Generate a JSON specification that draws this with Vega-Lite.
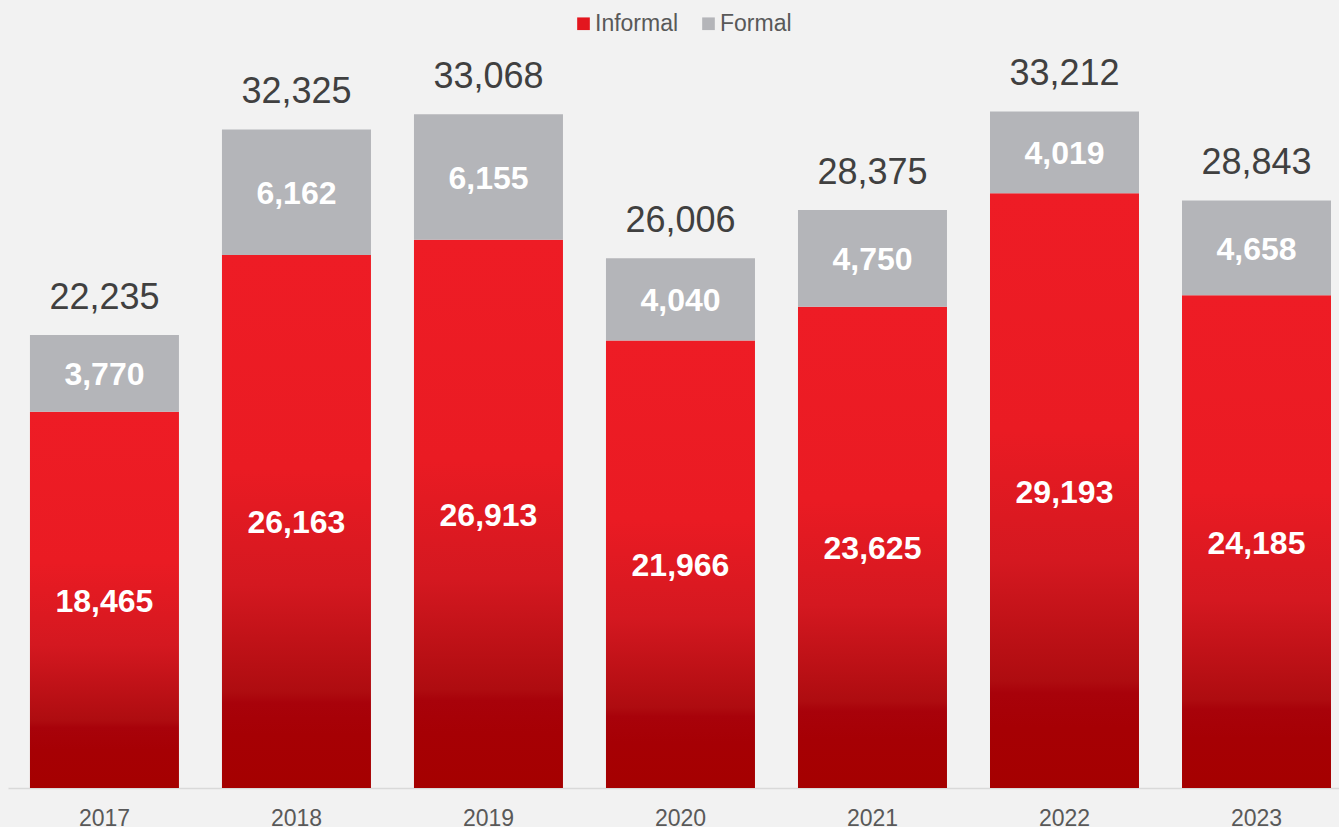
{
  "$schema": "https://vega.github.io/schema/vega-lite/v6.json",
  "width": 1331,
  "height": 788,
  "autosize": {"type": "none"},
  "padding": {"left": 8, "top": 0, "right": 0, "bottom": 39},
  "background": "#F2F2F2",
  "config": {
    "view": {"stroke": null},
    "font": "Liberation Sans",
    "axis": {"grid": false}
  },
  "data": {
    "values": [
      {"year": "2017", "informal": 18465, "formal": 3770, "total": 22235},
      {"year": "2018", "informal": 26163, "formal": 6162, "total": 32325},
      {"year": "2019", "informal": 26913, "formal": 6155, "total": 33068},
      {"year": "2020", "informal": 21966, "formal": 4040, "total": 26006},
      {"year": "2021", "informal": 23625, "formal": 4750, "total": 28375},
      {"year": "2022", "informal": 29193, "formal": 4019, "total": 33212},
      {"year": "2023", "informal": 24185, "formal": 4658, "total": 28843}
    ]
  },
  "transform": [
    {"calculate": "datum.informal / 2", "as": "mid_i"},
    {"calculate": "datum.informal + datum.formal / 2", "as": "mid_f"}
  ],
  "encoding": {
    "x": {
      "field": "year",
      "type": "ordinal",
      "scale": {"paddingInner": 0.224, "paddingOuter": 0.078, "align": 0.733},
      "axis": {
        "title": null,
        "labelAngle": 0,
        "ticks": false,
        "domainColor": "#D9D9D9",
        "domainWidth": 1.5,
        "labelFontSize": 23,
        "labelColor": "#595959",
        "labelFont": "Liberation Sans",
        "labelPadding": 19
      }
    }
  },
  "layer": [
    {
      "mark": {
        "type": "bar",
        "fill": {
          "gradient": "linear",
          "x1": 0, "y1": 0, "x2": 0, "y2": 1,
          "stops": [
            {"offset": 0, "color": "#EE1C25"},
            {"offset": 0.4, "color": "#EA1B23"},
            {"offset": 0.62, "color": "#D41820"},
            {"offset": 0.82, "color": "#AE0C10"},
            {"offset": 0.84, "color": "#A8020A"},
            {"offset": 0.9, "color": "#A60004"},
            {"offset": 1, "color": "#A50000"}
          ]
        }
      },
      "encoding": {
        "y": {"field": "informal", "type": "quantitative", "scale": {"domain": [0, 38679], "nice": false, "zero": true}, "axis": null}
      }
    },
    {
      "mark": {"type": "bar"},
      "encoding": {
        "y": {"field": "informal", "type": "quantitative"},
        "y2": {"field": "total"},
        "color": {
          "datum": "Formal",
          "type": "nominal",
          "scale": {"domain": ["Informal", "Formal"], "range": ["#E3161E", "#B4B5B9"]},
          "legend": {
            "title": null,
            "orient": "none",
            "legendX": 564,
            "legendY": 12,
            "direction": "horizontal",
            "symbolType": "square",
            "symbolSize": 160,
            "symbolStrokeWidth": 0,
            "labelFontSize": 23,
            "labelColor": "#595959",
            "labelFont": "Liberation Sans",
            "labelOffset": 0,
            "columnPadding": 18
          }
        }
      }
    },
    {
      "mark": {"type": "text", "color": "white", "fontSize": 32, "fontWeight": "bold", "baseline": "middle", "dy": 2, "font": "Liberation Sans"},
      "encoding": {
        "y": {"field": "mid_i", "type": "quantitative"},
        "text": {"field": "informal", "type": "quantitative", "format": ","}
      }
    },
    {
      "mark": {"type": "text", "color": "white", "fontSize": 32, "fontWeight": "bold", "baseline": "middle", "dy": 2, "font": "Liberation Sans"},
      "encoding": {
        "y": {"field": "mid_f", "type": "quantitative"},
        "text": {"field": "formal", "type": "quantitative", "format": ","}
      }
    },
    {
      "mark": {"type": "text", "color": "#404040", "fontSize": 36, "baseline": "alphabetic", "dy": -26, "font": "Liberation Sans"},
      "encoding": {
        "y": {"field": "total", "type": "quantitative"},
        "text": {"field": "total", "type": "quantitative", "format": ","}
      }
    }
  ]
}
